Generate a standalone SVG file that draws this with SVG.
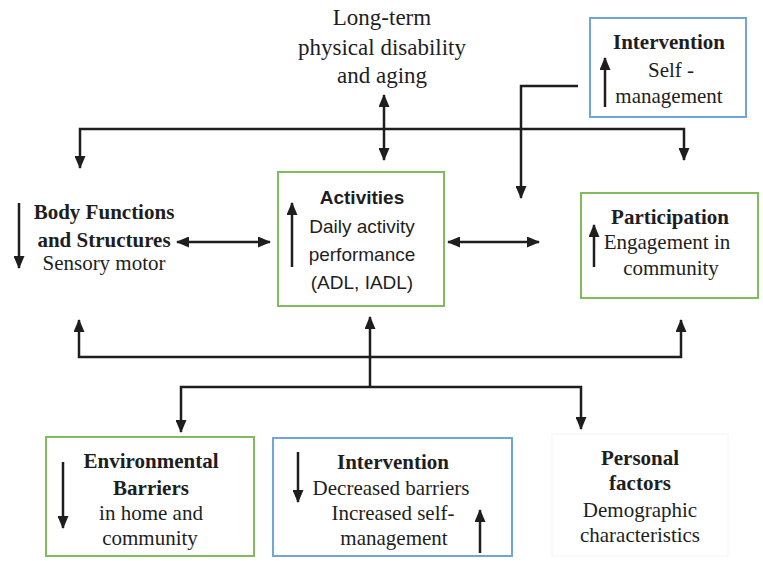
<svg xmlns="http://www.w3.org/2000/svg" width="763" height="561" viewBox="0 0 763 561">
<style>
  .t { font-family: "Liberation Serif", "Times New Roman", serif; font-size: 21px; fill: #1e1e1e; text-anchor: middle; }
  .big { font-size: 23px; }
  .b { font-weight: bold; }
  .s { font-family: "Liberation Sans", Arial, sans-serif; font-size: 19px; fill: #1e1e1e; text-anchor: middle; }
  .green { fill: #ffffff; stroke: #80bb5c; stroke-width: 2; }
  .blue { fill: #ffffff; stroke: #6fa5d8; stroke-width: 2; }
  .faint { fill: #ffffff; stroke: #f4f4f4; stroke-width: 1; }
  .c { fill: none; stroke: #1e1e1e; stroke-width: 2.5; marker-end: url(#ah); }
  .d { marker-start: url(#ah); }
</style>
<defs>
  <marker id="ah" viewBox="0 0 13 11" refX="12" refY="5.5" markerWidth="13" markerHeight="11" markerUnits="userSpaceOnUse" orient="auto-start-reverse">
    <path d="M0,0 L13,5.5 L0,11 z" fill="#1e1e1e"/>
  </marker>
</defs>
<rect width="763" height="561" fill="#ffffff"/>

<g id="connectors">
  <path class="c d" d="M80,168 L80,129 L684,129 L684,160"/>
  <path class="c d" d="M384,95 L384,160"/>
  <path class="c" d="M578,86 L521,86 L521,198"/>
  <path class="c d" d="M177,242 L270,242"/>
  <path class="c d" d="M448,242 L539,242"/>
  <path class="c d" d="M79,320 L79,357 L681,357 L681,320"/>
  <path class="c" d="M370,388 L370,317"/>
  <path class="c d" d="M181,432 L181,387 L581,387 L581,429"/>
</g>

<g id="longterm">
  <text class="t big" x="382" y="25">Long-term</text>
  <text class="t big" x="382" y="55">physical disability</text>
  <text class="t big" x="382" y="83">and aging</text>
</g>

<g id="intervention-top">
  <rect class="blue" x="590" y="18" width="156" height="99"/>
  <text class="t b" x="669" y="49">Intervention</text>
  <text class="t" x="671" y="77">Self -</text>
  <text class="t" x="669" y="103">management</text>
  <path class="c" d="M605,107 L605,58"/>
</g>

<g id="body">
  <text class="t b" x="104" y="219">Body Functions</text>
  <text class="t b" x="104" y="247">and Structures</text>
  <text class="t" x="104" y="270">Sensory motor</text>
  <path class="c" d="M19,203 L19,268"/>
</g>

<g id="activities">
  <rect class="green" x="278" y="172" width="166" height="134"/>
  <text class="s b" x="362" y="204">Activities</text>
  <text class="s" x="362" y="233">Daily activity</text>
  <text class="s" x="362" y="261">performance</text>
  <text class="s" x="362" y="289">(ADL, IADL)</text>
  <path class="c" d="M292,267 L292,203"/>
</g>

<g id="participation">
  <rect class="green" x="581" y="193" width="177" height="105"/>
  <text class="t b" x="670" y="224">Participation</text>
  <text class="t" x="667" y="249">Engagement in</text>
  <text class="t" x="671" y="275">community</text>
  <path class="c" d="M594,267 L594,225"/>
</g>

<g id="environmental">
  <rect class="green" x="46" y="437" width="208" height="119"/>
  <text class="t b" x="151" y="468">Environmental</text>
  <text class="t b" x="151" y="495">Barriers</text>
  <text class="t" x="151" y="520">in home and</text>
  <text class="t" x="150" y="545">community</text>
  <path class="c" d="M63,462 L63,528"/>
</g>

<g id="intervention-bottom">
  <rect class="blue" x="273" y="438" width="239" height="118"/>
  <text class="t b" x="393" y="469">Intervention</text>
  <text class="t" x="391" y="495">Decreased barriers</text>
  <text class="t" x="393" y="520">Increased self-</text>
  <text class="t" x="394" y="545">management</text>
  <path class="c" d="M298,452 L298,502"/>
  <path class="c" d="M480,553 L480,510"/>
</g>

<g id="personal">
  <rect class="faint" x="552" y="434" width="176" height="122"/>
  <text class="t b" x="640" y="465">Personal</text>
  <text class="t b" x="640" y="490">factors</text>
  <text class="t" x="640" y="517">Demographic</text>
  <text class="t" x="640" y="542">characteristics</text>
</g>
</svg>
